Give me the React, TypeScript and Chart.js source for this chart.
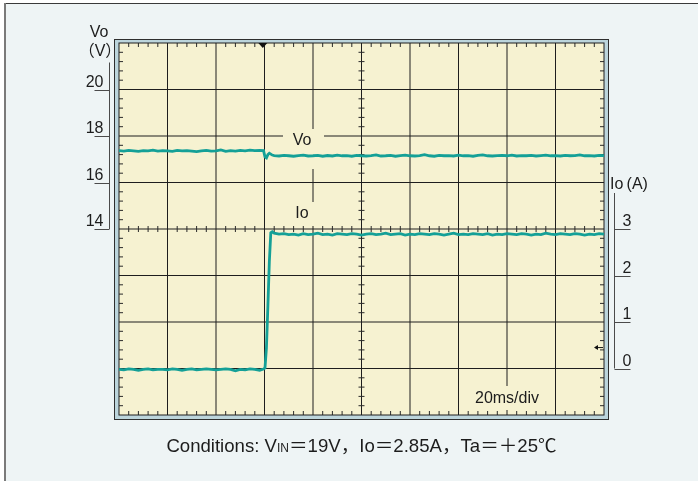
import React, { useEffect, useRef } from "react";
import { Chart, registerables } from "chart.js";

Chart.register(...registerables);

// ---- data ----
const timeMs = [
  0, 2, 4, 6, 8, 10, 12, 14, 16, 18, 20, 22, 24, 26, 28, 30, 32, 34, 36, 38, 40, 42, 44, 46, 48, 50, 52, 54, 56, 58,
  59.6, 60.2, 60.8, 61.4, 62.0, 62.6, 63.2,
  64, 66, 68, 70, 72, 74, 76, 78, 80, 82, 84, 86, 88, 90, 92, 94, 96, 98, 100, 102, 104, 106, 108, 110, 112, 114,
  116, 118, 120, 122, 124, 126, 128, 130, 132, 134, 136, 138, 140, 142, 144, 146, 148, 150, 152, 154, 156, 158,
  160, 162, 164, 166, 168, 170, 172, 174, 176, 178, 180, 182, 184, 186, 188, 190, 192, 194, 196, 198, 200,
];

const voValues = [
  17.37, 17.35, 17.38, 17.36, 17.34, 17.37, 17.36, 17.39, 17.35, 17.37,
  17.36, 17.34, 17.38, 17.36, 17.37, 17.35, 17.33, 17.36, 17.38, 17.35,
  17.36, 17.4, 17.34, 17.37, 17.35, 17.38, 17.36, 17.39, 17.37, 17.38,
  17.37, 17.1, 17.06, 17.2, 17.26, 17.22, 17.18,
  17.16, 17.14, 17.17, 17.15, 17.13, 17.16, 17.18, 17.14, 17.15, 17.17,
  17.13, 17.16, 17.14, 17.18, 17.15, 17.16, 17.13, 17.17, 17.15, 17.14,
  17.16, 17.19, 17.14, 17.15, 17.17, 17.13, 17.16, 17.18, 17.15, 17.14,
  17.16, 17.2, 17.15, 17.13, 17.17, 17.15, 17.16, 17.14, 17.18, 17.15,
  17.16, 17.13, 17.17, 17.19, 17.15, 17.14, 17.16, 17.17, 17.15, 17.18,
  17.14, 17.16, 17.15, 17.17, 17.14, 17.16, 17.18, 17.15, 17.16, 17.14,
  17.17, 17.15, 17.16, 17.19, 17.15, 17.16, 17.14, 17.17, 17.16,
];

const ioValues = [
  -0.02, -0.03, -0.01, -0.02, -0.04, -0.02, -0.01, -0.03, -0.02, -0.02,
  -0.03, -0.01, -0.02, -0.04, -0.02, -0.01, -0.03, -0.02, -0.01, -0.02,
  -0.03, -0.02, -0.01, -0.02, -0.05, -0.02, -0.03, -0.01, -0.02, -0.04,
  -0.01, 0.01, 0.45, 1.35, 2.3, 2.92, 2.94,
  2.91, 2.89, 2.9, 2.88, 2.89, 2.87, 2.9, 2.88, 2.89, 2.91,
  2.88, 2.89, 2.87, 2.9, 2.89, 2.88, 2.9, 2.89, 2.87, 2.89,
  2.9, 2.88, 2.89, 2.91, 2.88, 2.89, 2.9, 2.87, 2.89, 2.88,
  2.9, 2.89, 2.88, 2.9, 2.89, 2.87, 2.89, 2.91, 2.88, 2.89,
  2.88, 2.9, 2.89, 2.88, 2.9, 2.87, 2.89, 2.88, 2.9, 2.89,
  2.88, 2.9, 2.89, 2.87, 2.89, 2.88, 2.91, 2.89, 2.88, 2.9,
  2.89, 2.88, 2.9, 2.89, 2.87, 2.89, 2.88, 2.9, 2.89,
];

const gridTimeMs = [0, 20, 40, 60, 80, 100, 120, 140, 160, 180, 200];
const gridVo = [6, 8, 10, 12, 14, 16, 18, 20, 22];
const voAxisLabels = [14, 16, 18, 20];
const ioAxisLabels = [0, 1, 2, 3];
const centerTimeMs = 100;
const centerVo = 14;
const triggerMs = 59.3;
const refMarkerIo = 0.45;
const timeBaseLabel = "20ms/div";

const FONT = '"Liberation Sans", Arial, "Noto Sans CJK JP", sans-serif';
const TRACE = "#14a097";
const INK = "#1c1c1c";
const PLOT_BG = "#f6f2d1";

function text(ctx: CanvasRenderingContext2D, s: string, x: number, y: number, size: number, align: CanvasTextAlign = "left") {
  ctx.font = `${size}px ${FONT}`;
  ctx.textAlign = align;
  ctx.textBaseline = "alphabetic";
  ctx.fillStyle = INK;
  ctx.fillText(s, x, y);
}

const scopePlugin = {
  id: "scope",
  beforeDraw(chart: any) {
    const ctx: CanvasRenderingContext2D = chart.ctx;
    const { left, top, right, bottom } = chart.chartArea;
    const W = chart.width, H = chart.height;
    ctx.save();
    ctx.fillStyle = "#ffffff";
    ctx.fillRect(0, 0, W, H);
    ctx.fillStyle = "#eef4f5";
    ctx.fillRect(4, 3, W, H);
    ctx.strokeStyle = "#3a3a3a";
    ctx.lineWidth = 1;
    ctx.beginPath();
    ctx.moveTo(4, 3.5);
    ctx.lineTo(W, 3.5);
    ctx.stroke();
    ctx.strokeStyle = "#7a7a7a";
    ctx.lineWidth = 2;
    ctx.beginPath();
    ctx.moveTo(5, 3);
    ctx.lineTo(5, H);
    ctx.stroke();
    // frame
    ctx.fillStyle = "#2e2e2e";
    ctx.fillRect(left - 5, top - 4, right - left + 10, bottom - top + 9);
    ctx.fillStyle = "#bcd5dc";
    ctx.fillRect(left - 4, top - 3, right - left + 8, bottom - top + 7);
    ctx.fillStyle = PLOT_BG;
    ctx.fillRect(left, top, right - left, bottom - top);
    ctx.restore();
  },
  beforeDatasetsDraw(chart: any) {
    const ctx: CanvasRenderingContext2D = chart.ctx;
    const { left, top, right, bottom } = chart.chartArea;
    const xs = chart.scales.x, yv = chart.scales.yVo;
    ctx.save();
    ctx.strokeStyle = "#1e1e1e";
    ctx.lineWidth = 1;
    ctx.beginPath();
    gridTimeMs.slice(1, -1).forEach((t) => {
      const x = xs.getPixelForValue(t);
      ctx.moveTo(x, top);
      ctx.lineTo(x, bottom);
    });
    gridVo.slice(1, -1).forEach((v) => {
      const y = yv.getPixelForValue(v);
      ctx.moveTo(left, y);
      ctx.lineTo(right, y);
    });
    ctx.stroke();
    // minor ticks
    const cy = yv.getPixelForValue(centerVo);
    const cx = xs.getPixelForValue(centerTimeMs);
    ctx.strokeStyle = "#2a2a2a";
    ctx.beginPath();
    for (let i = 0; i < gridTimeMs.length - 1; i++) {
      for (let k = 1; k < 5; k++) {
        const t = gridTimeMs[i] + ((gridTimeMs[i + 1] - gridTimeMs[i]) * k) / 5;
        const x = xs.getPixelForValue(t);
        ctx.moveTo(x, top); ctx.lineTo(x, top + 4);
        ctx.moveTo(x, bottom); ctx.lineTo(x, bottom - 4);
        ctx.moveTo(x, cy - 3); ctx.lineTo(x, cy + 3);
      }
    }
    for (let i = 0; i < gridVo.length - 1; i++) {
      for (let k = 1; k < 5; k++) {
        const v = gridVo[i] + ((gridVo[i + 1] - gridVo[i]) * k) / 5;
        const y = yv.getPixelForValue(v);
        ctx.moveTo(left, y); ctx.lineTo(left + 4, y);
        ctx.moveTo(right, y); ctx.lineTo(right - 4, y);
        ctx.moveTo(cx - 3, y); ctx.lineTo(cx + 3, y);
      }
    }
    ctx.stroke();
    ctx.strokeStyle = "#1e1e1e";
    ctx.strokeRect(left, top, right - left, bottom - top);

    // label boxes inside the plot
    const gx = xs.getPixelForValue(80);
    ctx.fillStyle = PLOT_BG;
    ctx.fillRect(gx - 30, yv.getPixelForValue(18) - 7, 41, 40);
    ctx.fillRect(gx - 21, yv.getPixelForValue(centerVo) - 27, 30, 24);
    const tx = xs.getPixelForValue(160);
    ctx.fillRect(tx - 41, bottom - 29, 82, 24);
    text(ctx, "Vo", gx - 11, yv.getPixelForValue(18) + 8.5, 16, "center");
    text(ctx, "Io", gx - 11, yv.getPixelForValue(centerVo) - 11.5, 16, "center");
    text(ctx, timeBaseLabel, tx, bottom - 12, 16, "center");
    ctx.restore();
  },
  afterDatasetsDraw(chart: any) {
    const ctx: CanvasRenderingContext2D = chart.ctx;
    const { left, top, right, bottom } = chart.chartArea;
    const xs = chart.scales.x, yv = chart.scales.yVo, yi = chart.scales.yIo;
    ctx.save();
    // trigger marker
    const trx = xs.getPixelForValue(triggerMs);
    ctx.fillStyle = "#111";
    ctx.beginPath();
    ctx.moveTo(trx - 4.5, top);
    ctx.lineTo(trx + 4.5, top);
    ctx.lineTo(trx, top + 5);
    ctx.closePath();
    ctx.fill();
    // reference marker arrow
    const ry = yi.getPixelForValue(refMarkerIo);
    ctx.strokeStyle = "#111";
    ctx.lineWidth = 1;
    ctx.beginPath();
    ctx.moveTo(right - 9, ry);
    ctx.lineTo(right - 1, ry);
    ctx.stroke();
    ctx.beginPath();
    ctx.moveTo(right - 10, ry);
    ctx.lineTo(right - 6, ry - 2.5);
    ctx.lineTo(right - 6, ry + 2.5);
    ctx.closePath();
    ctx.fill();

    // left Vo axis bracket
    ctx.strokeStyle = "#4a4a4a";
    ctx.lineWidth = 1;
    const lx = left - 9.5;
    ctx.beginPath();
    ctx.moveTo(lx, yv.getPixelForValue(20) - 27);
    ctx.lineTo(lx, yv.getPixelForValue(14));
    voAxisLabels.forEach((v) => {
      const y = Math.round(yv.getPixelForValue(v)) + 0.5;
      ctx.moveTo(lx - 15, y);
      ctx.lineTo(lx, y);
    });
    ctx.stroke();
    voAxisLabels.forEach((v) => {
      text(ctx, String(v), lx - 6, yv.getPixelForValue(v) - 3, 16, "right");
    });
    text(ctx, "Vo", left - 20, top - 6, 16, "center");
    text(ctx, "（V）", left - 19, top + 12.5, 16, "center");

    // right Io axis bracket
    const rx = right + 10.5;
    ctx.beginPath();
    ctx.moveTo(rx, yi.getPixelForValue(3) - 36);
    ctx.lineTo(rx, yi.getPixelForValue(0));
    ioAxisLabels.forEach((v) => {
      const y = Math.round(yi.getPixelForValue(v)) + 0.5;
      ctx.moveTo(rx, y);
      ctx.lineTo(rx + 16, y);
    });
    ctx.stroke();
    ioAxisLabels.forEach((v) => {
      text(ctx, String(v), rx + 8, yi.getPixelForValue(v) - 3, 16, "left");
    });
    text(ctx, "Io\u2009(A)", right + 6, yi.getPixelForValue(3) - 40, 16, "left");

    // conditions line
    const segs: [string, number][] = [
      ["Conditions: V", 18.6],
      ["IN", 12],
      ["＝19V，Io＝2.85A，Ta＝＋25℃", 18.6],
    ];
    let total = 0;
    segs.forEach(([s, sz]) => {
      ctx.font = `${sz}px ${FONT}`;
      total += ctx.measureText(s).width;
    });
    let x = (left + right) / 2 - total / 2;
    const base = bottom + 37;
    segs.forEach(([s, sz]) => {
      text(ctx, s, x, base, sz, "left");
      ctx.font = `${sz}px ${FONT}`;
      x += ctx.measureText(s).width;
    });
    ctx.restore();
  },
};

export default function App() {
  const ref = useRef<HTMLCanvasElement | null>(null);
  useEffect(() => {
    if (!ref.current) return;
    const chart = new Chart(ref.current, {
      type: "line",
      data: {
        datasets: [
          {
            label: "Vo",
            data: timeMs.map((t, i) => ({ x: t, y: voValues[i] })),
            yAxisID: "yVo",
            borderColor: TRACE,
            borderWidth: 2.8,
            pointRadius: 0,
            tension: 0,
          },
          {
            label: "Io",
            data: timeMs.map((t, i) => ({ x: t, y: ioValues[i] })),
            yAxisID: "yIo",
            borderColor: TRACE,
            borderWidth: 2.8,
            pointRadius: 0,
            tension: 0,
          },
        ],
      },
      options: {
        animation: false,
        responsive: false,
        devicePixelRatio: 1,
        layout: { padding: { left: 119, top: 43, right: 94, bottom: 66 } },
        plugins: { legend: { display: false }, tooltip: { enabled: false } },
        events: [],
        scales: {
          x: { type: "linear", min: 0, max: 200, display: false },
          yVo: { type: "linear", min: 6, max: 22, display: false },
          yIo: { type: "linear", min: -1, max: 7, display: false },
        },
      },
      plugins: [scopePlugin],
    });
    return () => chart.destroy();
  }, []);
  return (
    <div style={{ position: "fixed", left: 0, top: 0, width: 698, height: 481 }}>
      <canvas ref={ref} width={698} height={481} style={{ display: "block" }} />
    </div>
  );
}
